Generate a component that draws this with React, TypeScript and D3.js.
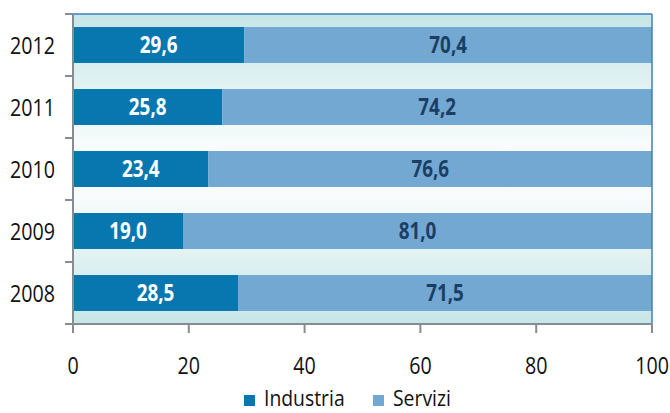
import React from "react";
import * as d3 from "d3";

const years = ["2012", "2011", "2010", "2009", "2008"];
const industria = [29.6, 25.8, 23.4, 19.0, 28.5];
const servizi = [70.4, 74.2, 76.6, 81.0, 71.5];
const xTicks = [0, 20, 40, 60, 80, 100];
const seriesNames = ["Industria", "Servizi"];
const seriesColors = ["#0877b0", "#73a8d3"];

const W = 670;
const H = 413;
const L = 73;
const R = 652;
const T = 14;
const B = 324;
const FONT = "'Open Sans', 'DejaVu Sans', sans-serif";
const SX = 0.82;

function T2(props: { x: number; y: number; anchor?: string; fill: string; size: number; bold?: boolean; sx?: number; children: React.ReactNode }) {
  return (
    <text
      transform={`translate(${props.x},${props.y}) scale(${props.sx || SX},1)`}
      dy="0.36em"
      textAnchor={props.anchor || "start"}
      fill={props.fill}
      fontSize={props.size}
      fontWeight={props.bold ? "bold" : "normal"}
    >
      {props.children}
    </text>
  );
}

export default function App() {
  const x = d3.scaleLinear().domain([0, 100]).range([L, R]);
  const y = d3.scaleBand<string>().domain(years).range([T, B]).paddingInner(0.42).paddingOuter(0.21);
  const step = y.step();
  const bw = y.bandwidth();
  const fmt = (v: number) => v.toFixed(1).replace(".", ",");
  const boundaries = years.map((yr) => (y(yr) as number) - (step - bw) / 2).concat([B]);

  return (
    <svg width={W} height={H} style={{ position: "absolute", left: 0, top: 0 }} fontFamily={FONT}>
      <defs>
        <linearGradient id="bg" x1="0" y1="0" x2="0" y2="1">
          <stop offset="0%" stopColor="#c6e6e8" />
          <stop offset="45%" stopColor="#fbfdfd" />
          <stop offset="60%" stopColor="#f7fbfb" />
          <stop offset="100%" stopColor="#c6e6e8" />
        </linearGradient>
      </defs>
      <rect x={L} y={T} width={R - L} height={B - T} fill="url(#bg)" />
      {years.map((yr, i) => {
        const y0 = y(yr) as number;
        const xi = x(industria[i]);
        const xe = x(industria[i] + servizi[i]);
        return (
          <g key={yr}>
            <rect x={x(0)} y={y0} width={xi - x(0)} height={bw} fill={seriesColors[0]} />
            <rect x={xi} y={y0} width={xe - xi} height={bw} fill={seriesColors[1]} />
            <T2 x={(x(0) + xi) / 2} y={y0 + bw / 2} anchor="middle" fill="#ffffff" size={23} bold>
              {fmt(industria[i])}
            </T2>
            <T2 x={(xi + xe) / 2} y={y0 + bw / 2} anchor="middle" fill="#1b3f63" size={23} bold>
              {fmt(servizi[i])}
            </T2>
            <T2 x={55} y={y0 + bw / 2} anchor="end" fill="#111" size={24}>
              {yr}
            </T2>
          </g>
        );
      })}
      <line x1={L} x2={R} y1={T} y2={T} stroke="#3f7fc0" strokeWidth={1.5} />
      <line x1={R} x2={R} y1={T} y2={B} stroke="#3f7fc0" strokeWidth={1.5} />
      <line x1={L} x2={L} y1={T} y2={B + 9} stroke="#868c92" strokeWidth={2} />
      {boundaries.map((b, i) => (
        <line key={i} x1={L - 8} x2={L} y1={b} y2={b} stroke="#868c92" strokeWidth={2} />
      ))}
      <line x1={L - 8} x2={R} y1={B} y2={B} stroke="#868c92" strokeWidth={2} />
      {xTicks.map((t) => (
        <g key={t}>
          <line x1={x(t)} x2={x(t)} y1={B} y2={B + 9} stroke="#868c92" strokeWidth={2} />
          <T2 x={x(t)} y={365} anchor="middle" fill="#111" size={24}>
            {t}
          </T2>
        </g>
      ))}
      {seriesNames.map((n, i) => {
        const lx = i === 0 ? 244 : 373;
        return (
          <g key={n}>
            <rect x={lx} y={395} width={11} height={11} fill={seriesColors[i]} />
            <T2 x={lx + 20} y={398} fill="#111" size={22} sx={0.88}>
              {n}
            </T2>
          </g>
        );
      })}
    </svg>
  );
}
